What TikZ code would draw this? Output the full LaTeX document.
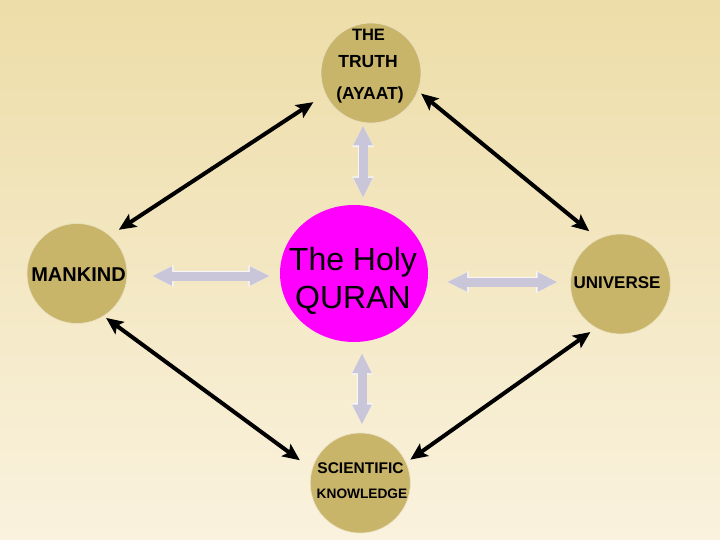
\documentclass[tikz,border=0pt]{standalone}
\usepackage{fontspec}
\setmainfont{Liberation Sans}
\usetikzlibrary{arrows.meta,shapes.geometric,calc}
\definecolor{bgtop}{RGB}{237,221,168}
\definecolor{bgbot}{RGB}{250,242,222}
\definecolor{circcol}{RGB}{201,181,106}
\definecolor{qcol}{RGB}{255,0,255}
\definecolor{arrgray}{RGB}{200,198,216}
\tikzset{
  circ/.style={circle, fill=circcol, draw=circcol!40!white, line width=0.6pt, minimum size=100pt, inner sep=0pt},
  qoval/.style={ellipse, fill=qcol, minimum width=148pt, minimum height=137pt, inner sep=0pt},
  lbl/.style={anchor=base, inner sep=0pt, font=\bfseries},
  blk/.style={line width=4pt, black, {Stealth[length=17pt,width=15pt,inset=3.5pt]}-{Stealth[length=17pt,width=15pt,inset=3.5pt]}},
  grayout/.style={line width=10.5pt, white!85!arrgray, {Triangle[length=21.5pt,width=20pt]}-{Triangle[length=21.5pt,width=20pt]}},
  grayarr/.style={line width=9pt, arrgray, {Triangle[length=20pt,width=18pt]}-{Triangle[length=20pt,width=18pt]}}
}
\begin{document}
\begin{tikzpicture}[x=1pt,y=-1pt]
\useasboundingbox (0,0) rectangle (720,540);
\fill[top color=bgtop, bottom color=bgbot] (0,0) rectangle (720,540);

% nodes
\node[circ] (truth) at (371,73) {};
\node[circ] (mankind) at (77,273.5) {};
\node[circ] (universe) at (620.5,284) {};
\node[circ] (sci) at (360.3,483) {};
\node[qoval] (quran) at (354,273.5) {};

% texts
\node[lbl, font=\bfseries\fontsize{16.5}{18}\selectfont] (tthe) at (368.5,40.7) {THE};
\node[lbl, font=\bfseries\fontsize{17.5}{19}\selectfont] (ttruth) at (368,67.3) {TRUTH};
\node[lbl, font=\bfseries\fontsize{17.5}{19}\selectfont] (tayaat) at (370,100) {(AYAAT)};
\node[lbl, font=\bfseries\fontsize{20}{22}\selectfont] (tman) at (78.5,281) {MANKIND};
\node[lbl, font=\bfseries\fontsize{17}{19}\selectfont] (tuni) at (617,288) {UNIVERSE};
\node[lbl, font=\bfseries\fontsize{15.5}{17}\selectfont] (tsci) at (360.5,473.3) {SCIENTIFIC};
\node[lbl, font=\bfseries\fontsize{13.7}{15}\selectfont] (tknow) at (362,498.3) {KNOWLEDGE};
\node[anchor=base, inner sep=0pt, font=\fontsize{32}{35}\selectfont] (tholy) at (353,270) {The Holy};
\node[anchor=base, inner sep=0pt, font=\fontsize{32}{35}\selectfont] (tquran) at (353,308) {QURAN};

% gray block arrows
\foreach \s in {grayout,grayarr}{
  \draw[\s, shorten <=2pt, shorten >=7pt] ([xshift=-8pt]truth.south) -- ([xshift=-8pt]truth.south |- quran.north);
  \draw[\s, shorten <=24.7pt, shorten >=10pt] ([yshift=-2.5pt]mankind.east) -- ([yshift=-2.5pt]mankind.east -| quran.west);
  \draw[\s, shorten <=19pt, shorten >=12.5pt] ([yshift=-8.5pt]quran.east) -- ([yshift=-8.5pt]quran.east -| universe.west);
  \draw[\s, shorten <=11pt, shorten >=8pt] ([xshift=8pt]quran.south) -- ([xshift=8pt]quran.south |- sci.north);
}

% black arrows
\draw[blk, shorten <=10.5pt, shorten >=14.4pt] (mankind.49.8) -- (truth.205.8);
\draw[blk, shorten <=4pt, shorten >=12pt] (truth.339.8) -- (universe.116.1);
\draw[blk, shorten <=3pt, shorten >=15pt] (mankind.302) -- (sci.164.6);
\draw[blk, shorten <=7pt, shorten >=5pt] (universe.241.9) -- (sci.24.5);
\end{tikzpicture}
\end{document}
